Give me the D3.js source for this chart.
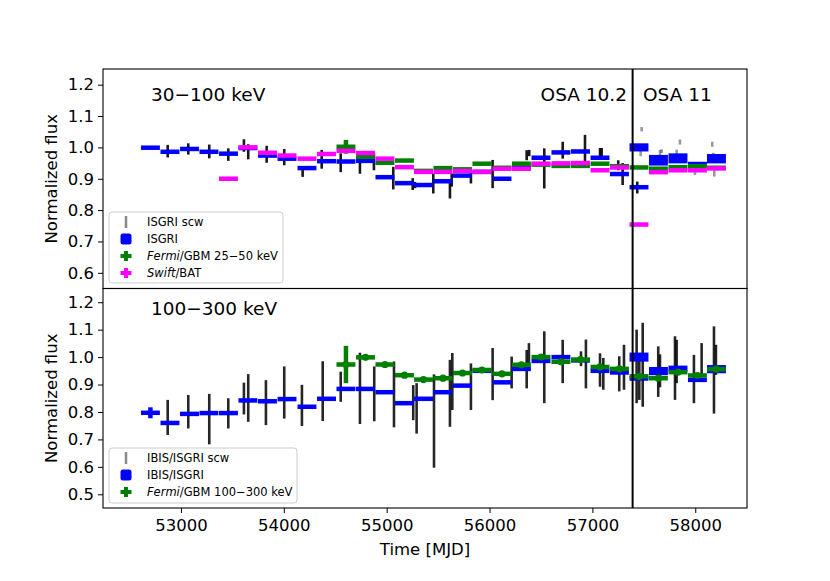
<!DOCTYPE html>
<meta charset="utf-8">
<script src="https://d3js.org/d3.v7.min.js"></script>
<style>
  body { margin: 0; background: #fff; }
  text { font-family: "DejaVu Sans", sans-serif; }
</style>
<div id="chart"></div>
<script>
    // time bins (MJD, centre) shared by all averaged light curves
    const binMJD = [52703, 52893, 53083, 53272, 53462, 53651, 53841, 54031, 54225, 54415,
                    54604, 54794, 54983, 55173, 55358, 55547, 55737, 55926, 56121, 56310,
                    56500, 56694, 56884, 57074, 57263, 57453, 57642, 57832, 58021, 58206];
    const binHalf = 92;
    const osaSwitch = 57391;

    // ---- 30-100 keV ----
    const isgriTop = [0.999, 0.986, 0.995, 0.986, 0.980, 0.998, 0.974, 0.964, 0.934, 0.956,
                      0.955, 0.957, 0.905, 0.886, 0.880, 0.892, 0.910, 0.922, 0.900, 0.935,
                      0.967, 0.984, 0.987, 0.967, 0.915, 0.873];
    const isgriTop11 = [1.000, 0.959, 0.965, 0.947, 0.964];
    const isgriTop11Err = [0.013, 0.017, 0.016, 0.005, 0.015];
    const fermiTop = [1.002, 0.970, 0.951, 0.958, 0.925, 0.934, 0.930, 0.948, 0.935, 0.948,
                      0.945, 0.941, 0.941, 0.948, 0.940, 0.936, 0.932, 0.937, 0.940, 0.935];
    const fermiTopErr = [0.022, 0.004, 0.004, 0.004, 0.004, 0.004, 0.004, 0.004, 0.004, 0.004,
                         0.004, 0.004, 0.004, 0.004, 0.004, 0.004, 0.004, 0.004, 0.004, 0.004];
    const batTop = [0.900, 1.000, 0.983, 0.974, 0.964, 0.979, 0.989, 0.982, 0.964, 0.937,
                    0.922, 0.922, 0.925, 0.922, 0.932, 0.932, 0.948, 0.949, 0.950, 0.927,
                    0.936, 0.754, 0.921, 0.927, 0.927, 0.933];

    const scwTopT = [52871, 53071, 53275, 53460, 53612, 53654, 53833, 54004, 54183, 54368,
                     54553, 54740, 54876, 55064, 55253, 55275, 55453, 55615, 55632, 55819,
                     56030, 56361, 56386, 56532, 56711, 56928, 57074, 57090, 57251, 57294, 57436];
    const scwTopF = [0.988, 0.995, 0.987, 0.977, 1.006, 0.986, 0.978, 0.969, 0.922, 0.962,
                     0.951, 0.951, 0.954, 0.902, 0.883, 0.880, 0.885, 0.864, 0.896, 0.906,
                     0.915, 0.975, 0.982, 0.933, 0.991, 0.997, 0.979, 0.985, 0.943, 0.915, 0.872];
    const scwTopE = [0.020, 0.018, 0.022, 0.020, 0.020, 0.024, 0.027, 0.026, 0.016, 0.030,
                     0.030, 0.035, 0.027, 0.036, 0.019, 0.010, 0.032, 0.027, 0.021, 0.021,
                     0.045, 0.016, 0.010, 0.064, 0.027, 0.043, 0.019, 0.013, 0.016, 0.035, 0.019];
    const scwTop11T = [57460, 57469, 57479, 57657, 57673, 57819, 57851, 57835, 57997, 58165, 58175, 58185];
    const scwTop11F = [1.000, 0.982, 1.058, 0.982, 0.988, 0.985, 1.017, 0.960, 0.920, 1.010, 0.975, 0.917];
    const scwTop11E = [0.008, 0.010, 0.007, 0.010, 0.006, 0.008, 0.008, 0.008, 0.008, 0.008, 0.008, 0.010];

    // ---- 100-300 keV ----
    const isgriBot = [0.797, 0.760, 0.793, 0.796, 0.796, 0.842, 0.839, 0.847, 0.819, 0.848,
                      0.884, 0.884, 0.872, 0.832, 0.848, 0.872, 0.896, 0.950, 0.908, 0.957,
                      0.986, 1.000, 0.988, 0.950, 0.944, 0.922];
    const isgriBotErr = [0.020, 0.004, 0.004, 0.004, 0.004, 0.004, 0.004, 0.004, 0.004, 0.004,
                         0.004, 0.004, 0.004, 0.004, 0.004, 0.004, 0.004, 0.004, 0.004, 0.004,
                         0.004, 0.004, 0.004, 0.004, 0.004, 0.004];
    const isgriBot11 = [1.000, 0.949, 0.958, 0.917, 0.956];
    const isgriBot11Err = [0.0165, 0.015, 0.011, 0.007, 0.015];
    const fermiBot = [0.973, 0.999, 0.973, 0.934, 0.918, 0.923, 0.942, 0.953, 0.939, 0.972,
                      1.000, 0.983, 0.991, 0.964, 0.957, 0.930, 0.923, 0.945, 0.933, 0.956];
    const fermiBotErr = [0.068, 0.005, 0.005, 0.005, 0.005, 0.005, 0.005, 0.005, 0.005, 0.005,
                         0.005, 0.005, 0.005, 0.005, 0.005, 0.005, 0.005, 0.005, 0.005, 0.005];

    const scwBotT = [52871, 53071, 53275, 53460, 53612, 53654, 53826, 54004, 54176, 54378,
                     54553, 54740, 54879, 55071, 55258, 55291, 55460, 55615, 55638, 55819,
                     56030, 56215, 56361, 56383, 56532, 56711, 56889, 56937, 57074, 57106,
                     57261, 57307, 57430, 57456, 57489, 57640, 57657, 57803, 57819, 57987,
                     58062, 58182, 58201];
    const scwBotF = [0.780, 0.801, 0.774, 0.795, 0.849, 0.851, 0.834, 0.871, 0.824, 0.876,
                     0.892, 0.886, 0.866, 0.864, 0.834, 0.813, 0.767, 0.868, 0.911, 0.892,
                     0.938, 0.944, 0.956, 1.008, 0.963, 0.984, 0.994, 0.975, 0.953, 0.939,
                     0.939, 0.963, 0.966, 0.929, 0.972, 0.947, 0.950, 0.960, 0.984, 0.920,
                     0.990, 0.953, 0.990];
    const scwBotE = [0.064, 0.061, 0.092, 0.055, 0.058, 0.087, 0.082, 0.095, 0.075, 0.109,
                     0.055, 0.130, 0.100, 0.120, 0.064, 0.092, 0.170, 0.122, 0.104, 0.085,
                     0.095, 0.058, 0.070, 0.043, 0.131, 0.079, 0.027, 0.089, 0.061, 0.058,
                     0.064, 0.082, 0.134, 0.085, 0.153, 0.092, 0.060, 0.116, 0.079, 0.088,
                     0.061, 0.159, 0.055];

    const xTicks = [53000, 54000, 55000, 56000, 57000, 58000];
    const yTicksTop = [0.6, 0.7, 0.8, 0.9, 1.0, 1.1, 1.2];
    const yTicksBot = [0.5, 0.6, 0.7, 0.8, 0.9, 1.0, 1.1, 1.2];

    // layout
    const W = 830, H = 581;
    const pLeft = 103, pRight = 747, pTop = 69, pMid = 288.5, pBottom = 508;

    const svg = d3.select("#chart").append("svg")
        .attr("width", W).attr("height", H);

    const x = d3.scaleLinear().domain([52242, 58503]).range([pLeft, pRight]);
    const yTop = d3.scaleLinear().domain([0.55, 1.25]).range([pMid, pTop]);
    const yBot = d3.scaleLinear().domain([0.45, 1.25]).range([pBottom, pMid]);

    function scw(g, y, T, F, E, color, op) {
        g.append("g").selectAll("line")
            .data(T.map((t, i) => ({t: t, f: F[i], e: E[i]})))
            .join("line")
            .attr("x1", d => x(d.t)).attr("x2", d => x(d.t))
            .attr("y1", d => y(d.f - d.e)).attr("y2", d => y(d.f + d.e))
            .attr("stroke", color).attr("stroke-opacity", op)
            .attr("stroke-width", 2.6);
    }

    // horizontal bin bars, with vertical error bar and optional box
    function bins(g, y, T, V, E, color, opts) {
        const data = T.map((t, i) => ({t: t, v: V[i], e: E ? E[i] : 0}));
        const hgt = d => opts.box ? Math.max(4.5, y(d.v - d.e) - y(d.v + d.e)) : 4.5;
        const grp = g.append("g");
        grp.selectAll("rect")
            .data(data)
            .join("rect")
            .attr("x", d => x(d.t - binHalf))
            .attr("width", d => x(d.t + binHalf) - x(d.t - binHalf))
            .attr("y", d => y(d.v) - hgt(d) / 2)
            .attr("height", hgt)
            .attr("fill", color);
        if (!opts.box) {
            grp.selectAll("line")
                .data(data)
                .join("line")
                .attr("x1", d => x(d.t)).attr("x2", d => x(d.t))
                .attr("y1", d => y(d.v - d.e)).attr("y2", d => y(d.v + d.e))
                .attr("stroke", color).attr("stroke-width", 4.5);
        }
        if (opts.dot) {
            grp.selectAll("circle")
                .data(data)
                .join("circle")
                .attr("cx", d => x(d.t)).attr("cy", d => y(d.v))
                .attr("r", 3.6).attr("fill", color);
        }
    }

    const gTop = svg.append("g");
    const gBot = svg.append("g");

    // top panel
    scw(gTop, yTop, scwTopT, scwTopF, scwTopE, "#000", 0.9);
    scw(gTop, yTop, scwTop11T, scwTop11F, scwTop11E, "#000", 0.4);
    bins(gTop, yTop, binMJD.slice(0, 26), isgriTop, null, "#0000ff", {});
    bins(gTop, yTop, binMJD.slice(25), isgriTop11, isgriTop11Err, "#0000ff", {box: true});
    bins(gTop, yTop, binMJD.slice(10), fermiTop, fermiTopErr, "#008000", {});
    bins(gTop, yTop, binMJD.slice(4), batTop, null, "#ff00ff", {});

    // bottom panel
    scw(gBot, yBot, scwBotT, scwBotF, scwBotE, "#000", 0.85);
    bins(gBot, yBot, binMJD.slice(0, 26), isgriBot, isgriBotErr, "#0000ff", {});
    bins(gBot, yBot, binMJD.slice(25), isgriBot11, isgriBot11Err, "#0000ff", {box: true});
    bins(gBot, yBot, binMJD.slice(10), fermiBot, fermiBotErr, "#008000", {dot: true});

    // OSA change
    svg.append("line")
        .attr("x1", x(osaSwitch)).attr("x2", x(osaSwitch))
        .attr("y1", pTop).attr("y2", pBottom)
        .attr("stroke", "#000").attr("stroke-width", 2);

    // axes
    const axTop = svg.append("g")
        .attr("transform", `translate(${pLeft},0)`)
        .call(d3.axisLeft(yTop).tickValues(yTicksTop).tickFormat(d3.format(".1f"))
            .tickSize(5).tickPadding(4));
    const axBot = svg.append("g")
        .attr("transform", `translate(${pLeft},0)`)
        .call(d3.axisLeft(yBot).tickValues(yTicksBot).tickFormat(d3.format(".1f"))
            .tickSize(5).tickPadding(4));
    const axX = svg.append("g")
        .attr("transform", `translate(0,${pBottom})`)
        .call(d3.axisBottom(x).tickValues(xTicks).tickFormat(d3.format("d"))
            .tickSize(5).tickPadding(6));
    [axTop, axBot, axX].forEach(a => {
        a.select(".domain").remove();
        a.selectAll("text").attr("font-size", 16.5).attr("fill", "#000")
            .attr("font-family", "DejaVu Sans");
        a.selectAll("line").attr("stroke", "#000");
    });

    // frames
    [[pTop, pMid], [pMid, pBottom]].forEach(([a, b]) => {
        svg.append("rect")
            .attr("x", pLeft).attr("y", a)
            .attr("width", pRight - pLeft).attr("height", b - a)
            .attr("fill", "none").attr("stroke", "#000").attr("stroke-width", 1.1);
    });

    // axis titles
    [(pTop + pMid) / 2, (pMid + pBottom) / 2].forEach(cy => {
        svg.append("text")
            .attr("transform", `translate(57,${cy}) rotate(-90)`)
            .attr("text-anchor", "middle")
            .attr("font-size", 16.5)
            .text("Normalized flux");
    });
    svg.append("text")
        .attr("x", (pLeft + pRight) / 2).attr("y", 555)
        .attr("text-anchor", "middle").attr("font-size", 16.5)
        .text("Time [MJD]");

    // panel annotations
    svg.append("text").attr("x", 151).attr("y", 101).attr("font-size", 18.5).text("30\u2212100 keV");
    svg.append("text").attr("x", 151).attr("y", 315).attr("font-size", 18.5).text("100\u2212300 keV");
    svg.append("text").attr("x", 627).attr("y", 101).attr("font-size", 18.5)
        .attr("text-anchor", "end").text("OSA 10.2");
    svg.append("text").attr("x", 643).attr("y", 101).attr("font-size", 18.5).text("OSA 11");

    // legends
    function legend(x0, y0, w, h, rows) {
        const g = svg.append("g");
        g.append("rect").attr("x", x0).attr("y", y0).attr("width", w).attr("height", h)
            .attr("rx", 3).attr("fill", "#fff").attr("fill-opacity", 0.85)
            .attr("stroke", "#ccc");
        rows.forEach((r, i) => {
            const cy = y0 + 10 + i * 17;
            const cx = x0 + 17;
            if (r.kind === "scw") {
                g.append("line").attr("x1", cx).attr("x2", cx)
                    .attr("y1", cy - 6).attr("y2", cy + 6)
                    .attr("stroke", "#888").attr("stroke-width", 2.5);
            } else if (r.kind === "box") {
                g.append("rect").attr("x", cx - 5.5).attr("y", cy - 5.5)
                    .attr("width", 11).attr("height", 11).attr("rx", 2.5)
                    .attr("fill", r.color);
            } else {
                g.append("rect").attr("x", cx - 5.5).attr("y", cy - 2)
                    .attr("width", 11).attr("height", 4).attr("fill", r.color);
                g.append("rect").attr("x", cx - 2).attr("y", cy - 5)
                    .attr("width", 4).attr("height", 10).attr("fill", r.color);
            }
            const t = g.append("text").attr("x", x0 + 38).attr("y", cy + 4)
                .attr("font-size", 11.5);
            if (r.it) t.append("tspan").attr("font-style", "italic").text(r.it);
            t.append("tspan").text(r.label);
        });
    }
    legend(109, 212, 174, 71, [
        {kind: "scw", label: "ISGRI scw"},
        {kind: "box", color: "#0000ff", label: "ISGRI"},
        {kind: "plus", color: "#008000", it: "Fermi", label: "/GBM 25\u221250 keV"},
        {kind: "plus", color: "#ff00ff", it: "Swift", label: "/BAT"}
    ]);
    legend(109, 448, 188, 55, [
        {kind: "scw", label: "IBIS/ISGRI scw"},
        {kind: "box", color: "#0000ff", label: "IBIS/ISGRI"},
        {kind: "plus", color: "#008000", it: "Fermi", label: "/GBM 100\u2212300 keV"}
    ]);
</script>
